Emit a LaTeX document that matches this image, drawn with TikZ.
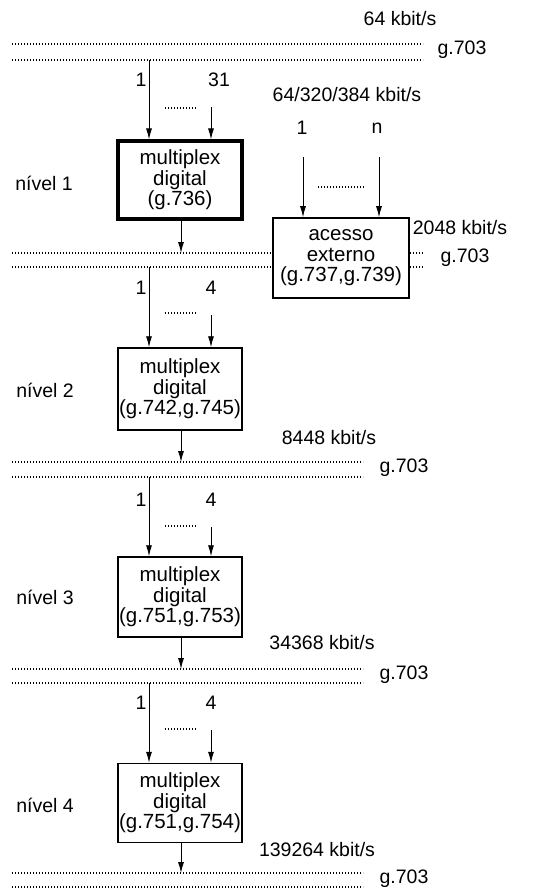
\documentclass[tikz,border=0pt]{standalone}
\usepackage{fontspec}
\setmainfont{Liberation Sans}
\usetikzlibrary{arrows.meta}
\begin{document}
\begin{tikzpicture}[x=1pt,y=-1pt,
  bus/.style={line width=1.2pt, dash pattern=on 1.2pt off 1.8pt},
  fewdots/.style={line width=1.1pt, dash pattern=on 1pt off 2pt},
  sig/.style={line width=0.9pt, -{Latex[length=11pt,width=6pt]}},
  txt/.style={inner sep=0pt, font=\fontsize{19.5}{20.5}\selectfont},
  mux/.style={draw, line width=1.5pt, inner sep=0pt, minimum width=124pt, align=center, font=\fontsize{20.5}{20.5}\selectfont},
  muxthick/.style={mux, line width=3.2pt}]
\useasboundingbox (0,0) rectangle (559,893);

% ---- top bus
\coordinate (t1l) at (12,44); \coordinate (t1r) at (423,44);
\coordinate (t2l) at (12,60); \coordinate (t2r) at (423,60);
\draw[bus] (t1l) -- (t1r);
\draw[bus] (t2l) -- (t2r);
\node[txt] (r0) at (400,19) {64 kbit/s};
\node[txt] (g0) at (462,50) {g.703};

% ---- level 1
\node[muxthick, minimum height=78pt] (m1) at (180,180) {multiplex\\digital\\(g.736)};
\node[txt] (n1) at (44,183) {nível 1};
\node[txt] (i1a) at (141,80) {1};
\node[txt] (i1b) at (219,80) {31};
\coordinate (a1a) at (149,60);
\coordinate (a1b) at (211,107);
\draw[sig] (a1a) -- (a1a |- m1.north);
\draw[sig] (a1b) -- (a1b |- m1.north);
\coordinate (d1l) at (165,108); \coordinate (d1r) at (197,108);
\draw[fewdots] (d1l) -- (d1r);

\node[mux, minimum width=136pt, minimum height=80pt] (ax) at (341,258) {acesso\\externo\\(g.737,g.739)};
\node[txt] (rx) at (347,95) {64/320/384 kbit/s};
\node[txt] (ix1) at (302,128) {1};
\node[txt] (ixn) at (377,128) {n};
\coordinate (ax1) at (303,157);
\coordinate (axn) at (379,157);
\draw[sig] (ax1) -- (ax1 |- ax.north);
\draw[sig] (axn) -- (axn |- ax.north);
\coordinate (dxl) at (318,187); \coordinate (dxr) at (365,187);
\draw[fewdots] (dxl) -- (dxr);

\coordinate (b1l) at (12,253); \coordinate (b1r) at (ax.west |- 0,253);
\coordinate (b2l) at (12,267); \coordinate (b2r) at (ax.west |- 0,267);
\draw[bus] (b1l) -- (b1r);
\draw[bus] (b2l) -- (b2r);
\coordinate (c1l) at (ax.east |- 0,253); \coordinate (c1r) at (424,253);
\coordinate (c2l) at (ax.east |- 0,267); \coordinate (c2r) at (424,267);
\draw[bus] (c1l) -- (c1r);
\draw[bus] (c2l) -- (c2r);
\node[txt] (r1) at (460,228) {2048 kbit/s};
\node[txt] (g1) at (465,258) {g.703};
\coordinate (o1) at (181,253);
\draw[sig] (m1.south -| o1) -- (o1);

% ---- level 2
\node[mux, minimum height=82pt] (m2) at (180,389) {multiplex\\digital\\(g.742,g.745)};
\node[txt] (n2) at (45,390) {nível 2};
\node[txt] (i2a) at (141,288) {1};
\node[txt] (i2b) at (211,288) {4};
\coordinate (a2a) at (149,267);
\coordinate (a2b) at (211,315);
\draw[sig] (a2a) -- (a2a |- m2.north);
\draw[sig] (a2b) -- (a2b |- m2.north);
\coordinate (d2l) at (165,313); \coordinate (d2r) at (197,313);
\draw[fewdots] (d2l) -- (d2r);
\coordinate (e1l) at (12,462); \coordinate (e1r) at (363,462);
\coordinate (e2l) at (12,477); \coordinate (e2r) at (363,477);
\draw[bus] (e1l) -- (e1r);
\draw[bus] (e2l) -- (e2r);
\node[txt] (r2) at (329,438) {8448 kbit/s};
\node[txt] (g2) at (404,468) {g.703};
\coordinate (o2) at (181,462);
\draw[sig] (m2.south -| o2) -- (o2);

% ---- level 3
\node[mux, minimum height=80pt] (m3) at (180,597) {multiplex\\digital\\(g.751,g.753)};
\node[txt] (n3) at (45,597) {nível 3};
\node[txt] (i3a) at (141,500) {1};
\node[txt] (i3b) at (211,500) {4};
\coordinate (a3a) at (149,477);
\coordinate (a3b) at (211,527);
\draw[sig] (a3a) -- (a3a |- m3.north);
\draw[sig] (a3b) -- (a3b |- m3.north);
\coordinate (d3l) at (165,526); \coordinate (d3r) at (197,526);
\draw[fewdots] (d3l) -- (d3r);
\coordinate (f1l) at (12,669); \coordinate (f1r) at (363,669);
\coordinate (f2l) at (12,683); \coordinate (f2r) at (363,683);
\draw[bus] (f1l) -- (f1r);
\draw[bus] (f2l) -- (f2r);
\node[txt] (r3) at (322,643) {34368 kbit/s};
\node[txt] (g3) at (404,675) {g.703};
\coordinate (o3) at (181,669);
\draw[sig] (m3.south -| o3) -- (o3);

% ---- level 4
\node[mux, minimum height=79pt] (m4) at (180,803) {multiplex\\digital\\(g.751,g.754)};
\node[txt] (n4) at (45,805) {nível 4};
\node[txt] (i4a) at (141,703) {1};
\node[txt] (i4b) at (211,703) {4};
\coordinate (a4a) at (149,683);
\coordinate (a4b) at (211,730);
\draw[sig] (a4a) -- (a4a |- m4.north);
\draw[sig] (a4b) -- (a4b |- m4.north);
\coordinate (d4l) at (165,729); \coordinate (d4r) at (197,729);
\draw[fewdots] (d4l) -- (d4r);
\coordinate (h1l) at (12,873); \coordinate (h1r) at (363,873);
\coordinate (h2l) at (12,887); \coordinate (h2r) at (363,887);
\draw[bus] (h1l) -- (h1r);
\draw[bus] (h2l) -- (h2r);
\node[txt] (r4) at (317,850) {139264 kbit/s};
\node[txt] (g4) at (404,879) {g.703};
\coordinate (o4) at (181,873);
\draw[sig] (m4.south -| o4) -- (o4);
\end{tikzpicture}
\end{document}
